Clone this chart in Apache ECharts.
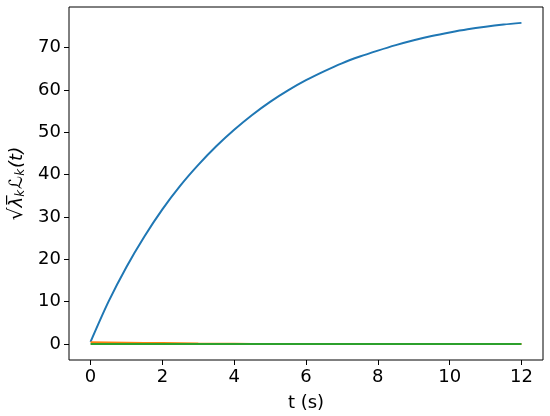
<!DOCTYPE html>
<html>
<head>
<meta charset="utf-8">
<script src="https://cdn.jsdelivr.net/npm/echarts@6/dist/echarts.min.js"></script>
<style>
html, body { margin: 0; padding: 0; background: #fff; }
#chart { width: 550px; height: 416px; }
</style>
</head>
<body>
<div id="chart"></div>
<script>
// time samples (s)
var t = [0, 0.5, 1, 1.5, 2, 2.5, 3, 3.5, 4, 4.5, 5, 5.5, 6, 6.5, 7, 7.5, 8, 8.5, 9, 9.5, 10, 10.5, 11, 11.5, 12];
// mode k = 1, 2, 3
var mode1 = [0.5, 10.0, 18.2, 25.4, 31.8, 37.4, 42.3, 46.7, 50.6, 54.1, 57.2, 59.9, 62.3, 64.4, 66.3, 67.9, 69.3, 70.6, 71.75, 72.75, 73.6, 74.35, 74.95, 75.45, 75.85];
var mode2 = [0.4, 0.35, 0.3, 0.25, 0.2, 0.14, 0.08, 0.04, 0.02, 0.01, 0, 0, 0, 0, 0, 0, 0, 0, 0, 0, 0, 0, 0, 0, 0];
var mode3 = [0, 0, 0, 0, 0, 0, 0, 0, 0, 0, 0, 0, 0, 0, 0, 0, 0, 0, 0, 0, 0, 0, 0, 0, 0];
var xTicks = [0, 2, 4, 6, 8, 10, 12];
var yTicks = [0, 10, 20, 30, 40, 50, 60, 70];

function pairs(ys) {
  var out = [];
  for (var i = 0; i < t.length; i++) out.push([t[i], ys[i]]);
  return out;
}

var font = 'DejaVu Sans';
var chart = echarts.init(document.getElementById('chart'), null, { renderer: 'canvas' });
var colors = ['#1f77b4', '#ff7f0e', '#2ca02c'];
var series = [mode1, mode2, mode3].map(function (d, i) {
  return {
    type: 'line',
    data: pairs(d),
    showSymbol: false,
    symbol: 'none',
    smooth: i === 0 ? 0.3 : false,
    lineStyle: { color: colors[i], width: 2 },
    z: 2 + i
  };
});

chart.setOption({
  animation: false,
  grid: {
    left: 69, right: 7, top: 7, bottom: 56,
    outerBoundsMode: 'none',
    show: true, borderColor: '#000', borderWidth: 1, backgroundColor: 'transparent'
  },
  xAxis: {
    type: 'value',
    min: -0.6, max: 12.6,
    name: 't (s)',
    nameLocation: 'middle',
    nameGap: 34,
    nameTextStyle: { color: '#000', fontFamily: font, fontSize: 18 },
    axisLine: { show: false, onZero: false },
    splitLine: { show: false },
    axisTick: { show: true, customValues: xTicks, length: 5, lineStyle: { color: '#000' } },
    axisLabel: { customValues: xTicks, color: '#000', fontFamily: font, fontSize: 18, margin: 8 }
  },
  yAxis: {
    type: 'value',
    min: -3.79, max: 79.6,
    name: '{r|√}{o|λ̅}{s|k}{m|ℒ}{s|k}{n|(t)}',
    nameLocation: 'middle',
    nameRotate: 90,
    nameGap: 40,
    nameTextStyle: {
      color: '#000', fontFamily: font, fontSize: 18,
      rich: {
        r: { fontFamily: font, fontSize: 20, color: '#000' },
        o: { fontFamily: font, fontSize: 18, fontStyle: 'italic', color: '#000' },
        s: { fontFamily: font, fontSize: 12, fontStyle: 'italic', color: '#000', verticalAlign: 'bottom', padding: [7, 1, 0, 0] },
        m: { fontFamily: font, fontSize: 18, fontStyle: 'italic', color: '#000' },
        n: { fontFamily: font, fontSize: 18, fontStyle: 'italic', color: '#000' }
      }
    },
    axisLine: { show: false, onZero: false },
    splitLine: { show: false },
    axisTick: { show: true, customValues: yTicks, length: 5, lineStyle: { color: '#000' } },
    axisLabel: { customValues: yTicks, color: '#000', fontFamily: font, fontSize: 18, margin: 8 }
  },
  series: series
});
</script>
</body>
</html>
